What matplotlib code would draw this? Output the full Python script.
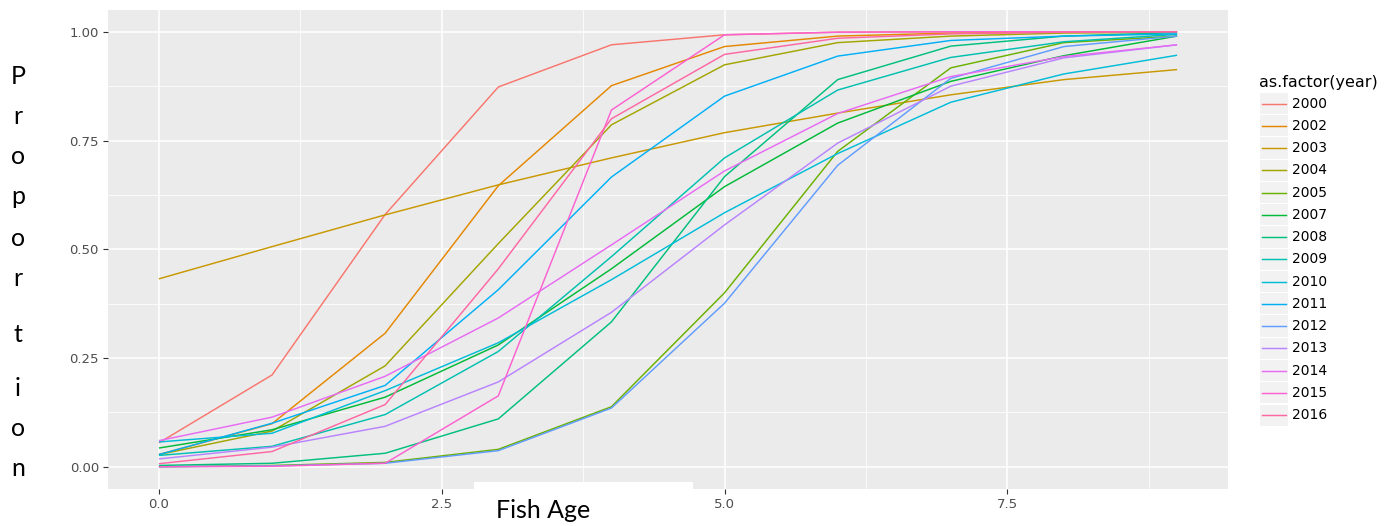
import matplotlib
matplotlib.use("Agg")
import matplotlib.pyplot as plt
from matplotlib.patches import Rectangle
from matplotlib.lines import Line2D

# Maturity-at-age curves by year
ages = [0, 1, 2, 3, 4, 5, 6, 7, 8, 9]
years = ["2000", "2002", "2003", "2004", "2005", "2007", "2008", "2009",
         "2010", "2011", "2012", "2013", "2014", "2015", "2016"]
colors = ["#F8766D", "#E58700", "#C99800", "#A3A500", "#6BB100", "#00BA38",
          "#00BF7D", "#00C0AF", "#00BCD8", "#00B0F6", "#619CFF", "#B983FF",
          "#E76BF3", "#FD61D1", "#FF67A4"]

p2000 = [0.055, 0.211, 0.580, 0.873, 0.970, 0.993, 0.999, 1.000, 1.000, 1.000]
p2002 = [0.028, 0.099, 0.307, 0.646, 0.876, 0.966, 0.990, 0.997, 0.999, 1.000]
p2003 = [0.432, 0.506, 0.579, 0.648, 0.710, 0.768, 0.813, 0.855, 0.890, 0.913]
p2004 = [0.028, 0.082, 0.232, 0.513, 0.786, 0.924, 0.975, 0.990, 0.997, 0.999]
p2005 = [0.000, 0.003, 0.010, 0.040, 0.138, 0.400, 0.725, 0.917, 0.975, 0.990]
p2007 = [0.043, 0.085, 0.160, 0.280, 0.455, 0.644, 0.790, 0.886, 0.945, 0.990]
p2008 = [0.003, 0.008, 0.031, 0.110, 0.333, 0.667, 0.890, 0.967, 0.990, 0.998]
p2009 = [0.026, 0.047, 0.120, 0.265, 0.483, 0.710, 0.866, 0.941, 0.977, 0.994]
p2010 = [0.057, 0.077, 0.175, 0.285, 0.430, 0.584, 0.720, 0.838, 0.903, 0.946]
p2011 = [0.028, 0.100, 0.187, 0.407, 0.666, 0.852, 0.944, 0.980, 0.990, 0.995]
p2012 = [0.000, 0.002, 0.008, 0.037, 0.135, 0.376, 0.693, 0.893, 0.966, 0.990]
p2013 = [0.018, 0.045, 0.093, 0.195, 0.355, 0.556, 0.744, 0.875, 0.940, 0.970]
p2014 = [0.060, 0.114, 0.208, 0.342, 0.510, 0.680, 0.812, 0.897, 0.943, 0.970]
p2015 = [0.000, 0.001, 0.008, 0.163, 0.820, 0.993, 0.999, 1.000, 1.000, 1.000]
p2016 = [0.007, 0.035, 0.143, 0.455, 0.800, 0.948, 0.985, 0.995, 0.999, 1.000]

series = [p2000, p2002, p2003, p2004, p2005, p2007, p2008, p2009,
          p2010, p2011, p2012, p2013, p2014, p2015, p2016]

x_ticks = [0, 2.5, 5, 7.5]
x_tick_labels = ["0.0", "2.5", "5.0", "7.5"]
y_ticks = [0, 0.25, 0.5, 0.75, 1.0]
y_tick_labels = ["0.00", "0.25", "0.50", "0.75", "1.00"]

W, H = 1398, 526
fig = plt.figure(figsize=(W / 100, H / 100), dpi=100)


def fx(px):
    return px / W


def fy(py):
    return 1 - py / H


ax = fig.add_axes([fx(108), fy(488.5), fx(1228) - fx(108), fy(10) - fy(488.5)])
ax.set_facecolor("#EBEBEB")
for s in ax.spines.values():
    s.set_visible(False)
ax.set_xlim(-0.45, 9.45)
ax.set_ylim(-0.05, 1.05)
ax.set_xticks(x_ticks)
ax.set_xticklabels(x_tick_labels)
ax.set_xticks([1.25, 3.75, 6.25, 8.75], minor=True)
ax.set_yticks(y_ticks)
ax.set_yticklabels(y_tick_labels)
ax.set_yticks([0.125, 0.375, 0.625, 0.875], minor=True)
ax.set_axisbelow(True)
ax.grid(which="major", color="white", lw=1.1)
ax.grid(which="minor", color="white", lw=0.55)
ax.tick_params(which="minor", length=0)
ax.tick_params(which="major", length=3.5, width=0.8, color="#333333",
               labelcolor="#4D4D4D", labelsize=9.5, pad=3)

for vals, c in zip(series, colors):
    ax.plot(ages, vals, color=c, lw=1.05, solid_capstyle="butt")

# Legend drawn as a keyed column to the right of the panel
fig.text(fx(1259), fy(82), "as.factor(year)", fontsize=11.5, color="black",
         ha="left", va="center")
y0, step = 103.5, 22.26
for i, (yr, c) in enumerate(zip(years, colors)):
    yc = y0 + i * step
    fig.add_artist(Rectangle((fx(1260), fy(yc + 10.6)), fx(1288) - fx(1260),
                             fy(yc - 10.6) - fy(yc + 10.6), transform=fig.transFigure,
                             facecolor="#F2F2F2", edgecolor="none"))
    fig.add_artist(Line2D([fx(1262), fx(1286)], [fy(yc), fy(yc)],
                          transform=fig.transFigure, color=c, lw=1.05))
    fig.text(fx(1292), fy(yc), yr, fontsize=10, color="black",
             ha="left", va="center")

# Axis titles
fig.add_artist(Rectangle((fx(474), 0), fx(693) - fx(474), fy(482),
                         transform=fig.transFigure, facecolor="white",
                         edgecolor="none", zorder=10))
fig.text(fx(543), fy(511), "Fish Age", fontsize=18, family="Lato",
         ha="center", va="center", zorder=11)

letters = list("Proportion")
letter_y = [76, 117, 157, 196, 238, 278, 334, 388, 429, 468]
for ch, yy in zip(letters, letter_y):
    fig.text(fx(18), fy(yy), ch, fontsize=18, family="Lato",
             ha="center", va="center")

fig.savefig("out.png", dpi=100, facecolor="white")
